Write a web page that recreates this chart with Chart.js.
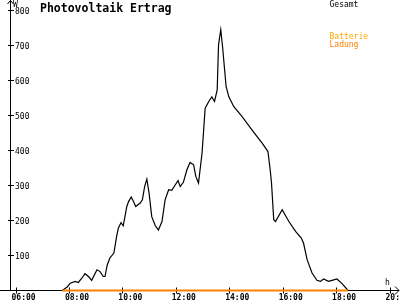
<!DOCTYPE html>
<html>
<head>
<meta charset="utf-8">
<script src="https://cdn.jsdelivr.net/npm/chart.js@4"></script>
<style>
  html, body { margin: 0; padding: 0; background: #fff; }
  #wrap { width: 400px; height: 300px; }
</style>
</head>
<body>
<div id="wrap"><canvas id="pv" width="400" height="300"></canvas></div>
<script>
// ===== Daten =====
const zeiten = [
  '07:45','07:56','08:03','08:14','08:21','08:29','08:36','08:44','08:51','09:03',
  '09:10','09:17','09:21','09:26','09:32','09:41','09:47','09:51','09:57','10:02',
  '10:10','10:14','10:20','10:25','10:30','10:40','10:45','10:50','10:55','11:00',
  '11:06','11:14','11:21','11:29','11:36','11:44','11:51','11:59','12:05','12:10',
  '12:17','12:25','12:32','12:40','12:45','12:51','12:59','13:06','13:14','13:21',
  '13:27','13:33','13:36','13:41','13:45','13:53','13:59','14:10','14:29','14:51',
  '15:14','15:27','15:32','15:35','15:40','15:44','15:59','16:14','16:29','16:42',
  '16:47','16:55','17:06','17:17','17:25','17:32','17:43','17:51','18:02','18:14',
  '18:27'
];
const gesamt = [
  0, 10, 21, 26, 23, 35, 48, 40, 29, 59,
  54, 40, 40, 73, 93, 107, 154, 178, 194, 185,
  240, 254, 267, 254, 240, 250, 259, 297, 318, 278,
  211, 185, 173, 197, 259, 288, 286, 302, 314, 297,
  309, 345, 366, 359, 326, 307, 393, 521, 540, 553,
  540, 573, 702, 745, 697, 583, 554, 526, 497, 459,
  421, 397, 345, 307, 202, 197, 231, 197, 169, 150,
  135, 88, 50, 29, 26, 33, 26, 29, 33, 19,
  0
];
const ladungZeiten = ['07:45', '18:27'];
const ladung = [0, 0];

const yTicks = [100, 200, 300, 400, 500, 600, 700, 800];
const xTicks = ['06:00', '08:00', '10:00', '12:00', '14:00', '16:00', '18:00', '20:00'];

const titel = 'Photovoltaik Ertrag';
const legende = [
  { text: 'Gesamt', color: '#000000', y: 7 },
  { text: 'Batterie', color: '#ffa800', y: 38.5 },
  { text: 'Ladung', color: '#ff8000', y: 46.5 },
];

function toMin(t) {
  const [h, m] = t.split(':').map(Number);
  return h * 60 + m;
}

const MONO = '"DejaVu Sans Mono", monospace';

// ===== Achsen, Beschriftung =====
const achsen = {
  id: 'achsen',
  beforeDatasetsDraw(chart) {
    const { ctx, scales: { x, y } } = chart;
    const ax = 10.5;
    const base = y.getPixelForValue(0);
    ctx.save();
    ctx.strokeStyle = '#000';
    ctx.lineWidth = 1;
    ctx.beginPath();
    // y-Achse mit Pfeil
    ctx.moveTo(ax, base);
    ctx.lineTo(ax, 0);
    ctx.moveTo(ax - 3, 4);
    ctx.lineTo(ax, 0.5);
    ctx.lineTo(ax + 3, 4);
    // x-Achse mit Pfeil
    ctx.moveTo(0, base);
    ctx.lineTo(399, base);
    ctx.moveTo(395, base - 4);
    ctx.lineTo(399, base);
    ctx.lineTo(395, base + 4);
    // Striche
    yTicks.forEach(v => {
      const py = y.getPixelForValue(v);
      ctx.moveTo(8, py);
      ctx.lineTo(14, py);
    });
    xTicks.forEach(t => {
      const px = Math.round(x.getPixelForValue(toMin(t))) + 0.5;
      ctx.moveTo(px, base - 3);
      ctx.lineTo(px, base + 3);
    });
    ctx.stroke();

    ctx.fillStyle = '#000';
    ctx.font = '8px ' + MONO;
    ctx.textBaseline = 'alphabetic';
    yTicks.forEach(v => {
      ctx.fillText(String(v), 15, y.getPixelForValue(v) + 3);
    });
    ctx.font = 'bold 8px ' + MONO;
    xTicks.forEach(t => {
      ctx.fillText(t, x.getPixelForValue(toMin(t)) - 4, 299.5);
    });
    ctx.font = '8px ' + MONO;
    ctx.fillText('W', 13, 7);
    ctx.fillText('h', 385, 284.5);

    ctx.font = 'bold 11.5px ' + MONO;
    ctx.fillText(titel, 40, 11.5);

    ctx.font = '8px ' + MONO;
    legende.forEach(l => {
      ctx.fillStyle = l.color;
      ctx.fillText(l.text, 329.5, l.y);
    });
    ctx.restore();
  }
};

new Chart(document.getElementById('pv'), {
  type: 'line',
  data: {
    datasets: [
      {
        label: 'Ladung',
        data: ladungZeiten.map((t, i) => ({ x: toMin(t), y: ladung[i] })),
        borderColor: '#ff8000',
        borderWidth: 2,
        pointRadius: 0,
        tension: 0,
        clip: false,
      },
      {
        label: 'Gesamt',
        data: zeiten.map((t, i) => ({ x: toMin(t), y: gesamt[i] })),
        borderColor: '#000000',
        borderWidth: 1.2,
        pointRadius: 0,
        tension: 0,
        clip: false,
      },
    ]
  },
  options: {
    responsive: false,
    animation: false,
    devicePixelRatio: 1,
    layout: { padding: { left: 15.5, right: 10.5, top: 10.5, bottom: 9.5 } },
    scales: {
      x: { type: 'linear', display: false, min: 360, max: 1200 },
      y: { display: false, min: 0, max: 800 },
    },
    plugins: {
      legend: { display: false },
      tooltip: { enabled: false },
    },
  },
  plugins: [achsen],
});
</script>
</body>
</html>
